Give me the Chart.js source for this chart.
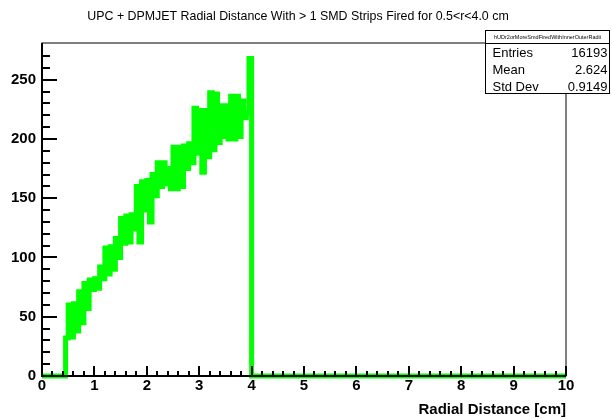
<!DOCTYPE html>
<html>
<head>
<meta charset="utf-8">
<title>UPC + DPMJET radial distance</title>
<script src="https://cdn.jsdelivr.net/npm/chart.js@4.4.1/dist/chart.umd.min.js"></script>
<style>
  html, body { margin: 0; padding: 0; background: #fff; }
  canvas { display: block; }
</style>
</head>
<body>
<canvas id="hist" width="612" height="419"></canvas>
<script>
// binning of the radial distance histogram (cm)
const binLow = 0.45;
const binWidth = 0.05;
const xRange = [0, 10];
const yMax = 281;

// bin contents from binLow up to 4.0 cm, everything else is empty
const counts = [32,
  60, 33, 61, 38, 71, 45, 78, 57, 81, 73,
  82, 74, 92, 82, 108, 86, 109, 90, 116, 100,
  133, 112, 135, 113, 136, 124, 160, 113, 164, 140,
  165, 130, 170, 152, 180, 160, 180, 162, 175, 158,
  193, 158, 193, 160, 194, 175, 196, 180, 226, 188,
  224, 172, 224, 185, 239, 191, 238, 197, 228, 202,
  228, 200, 236, 200, 236, 202, 232, 218, 222, 268];

const histName = 'hUDr2orMoreSmdFiredWithInnerOuterRadii';
const statNames = ['Entries', 'Mean', 'Std Dev'];
const statValues = ['16193', '2.624', '0.9149'];
const titleText = 'UPC + DPMJET Radial Distance With > 1 SMD Strips Fired for 0.5<r<4.0 cm';
const xTitle = 'Radial Distance [cm]';

const FONT = '"Liberation Sans", Arial, Helvetica, sans-serif';

// step points: each point sits on the low edge of its bin
const points = [{ x: xRange[0], y: 0 }];
counts.forEach((c, i) => points.push({ x: binLow + i * binWidth, y: c }));
points.push({ x: binLow + counts.length * binWidth, y: 0 });
points.push({ x: xRange[1], y: 0 });

const isWhole = (v, step) => Math.abs(v / step - Math.round(v / step)) < 1e-6;

// ROOT style frame with ticks pointing inwards
const framePlugin = {
  id: 'frame',
  afterDatasetsDraw(chart) {
    const { ctx, chartArea: a } = chart;
    const xs = chart.scales.x, ys = chart.scales.y;
    ctx.save();
    ctx.strokeStyle = '#000';
    ctx.lineWidth = 1;
    ctx.strokeRect(a.left, a.top, a.right - a.left, a.bottom - a.top);

    ctx.lineWidth = 2;
    ctx.beginPath();
    ctx.moveTo(a.left, a.top);
    ctx.lineTo(a.left, a.bottom);
    ctx.lineTo(a.right, a.bottom);
    ctx.stroke();

    ctx.beginPath();
    xs.ticks.forEach(t => {
      if (!isWhole(t.value, 0.2)) return;
      const px = Math.round(xs.getPixelForValue(t.value));
      const len = isWhole(t.value, 1) ? 10 : 5;
      ctx.moveTo(px, a.bottom);
      ctx.lineTo(px, a.bottom - len);
    });
    ys.ticks.forEach(t => {
      if (!isWhole(t.value, 10)) return;
      const py = Math.round(ys.getPixelForValue(t.value));
      const len = isWhole(t.value, 50) ? 15 : 8;
      ctx.moveTo(a.left, py);
      ctx.lineTo(a.left + len, py);
    });
    ctx.stroke();
    ctx.restore();
  },
  afterDraw(chart) {
    const { ctx } = chart;
    ctx.save();
    // title
    ctx.fillStyle = '#000';
    ctx.font = '12.4px ' + FONT;
    ctx.textAlign = 'center';
    ctx.textBaseline = 'middle';
    ctx.fillText(titleText, 298, 17);

    // statistics box
    const bx = 485, by = 30, bw = 125, bh = 64;
    ctx.fillStyle = '#fff';
    ctx.fillRect(bx, by, bw, bh);
    ctx.strokeStyle = '#000';
    ctx.lineWidth = 1;
    ctx.strokeRect(bx + 0.5, by + 0.5, bw - 1, bh - 1);
    ctx.beginPath();
    ctx.moveTo(bx, by + 13.5);
    ctx.lineTo(bx + bw, by + 13.5);
    ctx.stroke();

    ctx.fillStyle = '#000';
    ctx.font = '5.5px ' + FONT;
    ctx.fillText(histName, bx + bw / 2, by + 7);

    ctx.font = '13px ' + FONT;
    statNames.forEach((name, i) => {
      const y = 53.5 + i * 16.8;
      ctx.textAlign = 'left';
      ctx.fillText(name, bx + 7.5, y);
      ctx.textAlign = 'right';
      ctx.fillText(statValues[i], bx + bw - 2.5, y);
    });
    ctx.restore();
  }
};

new Chart(document.getElementById('hist'), {
  type: 'line',
  data: {
    datasets: [{
      data: points,
      stepped: 'before',
      borderColor: '#00ff00',
      borderWidth: 5,
      borderJoinStyle: 'miter',
      pointRadius: 0,
      fill: false,
      clip: 6
    }]
  },
  options: {
    responsive: false,
    devicePixelRatio: 1,
    animation: false,
    layout: { padding: { left: 0, right: 46, top: 43, bottom: 0 } },
    plugins: {
      legend: { display: false },
      tooltip: { enabled: false },
      title: { display: false }
    },
    scales: {
      x: {
        type: 'linear',
        min: xRange[0],
        max: xRange[1],
        grid: { display: false, drawTicks: false },
        border: { display: false },
        ticks: {
          stepSize: 0.2,
          autoSkip: false,
          maxRotation: 0,
          padding: 1,
          color: '#000',
          font: { family: FONT, size: 15, weight: 'bold' },
          callback: v => isWhole(v, 1) ? String(Math.round(v)) : ''
        },
        title: {
          display: true,
          text: xTitle,
          align: 'end',
          color: '#000',
          font: { family: FONT, size: 15, weight: 'bold' },
          padding: { top: 0, bottom: 0 }
        },
        afterFit: s => { s.height = 43; }
      },
      y: {
        min: 0,
        max: yMax,
        grid: { display: false, drawTicks: false },
        border: { display: false },
        ticks: {
          stepSize: 10,
          autoSkip: false,
          padding: 6,
          color: '#000',
          font: { family: FONT, size: 15, weight: 'bold' },
          callback: v => isWhole(v, 50) ? String(v) : ''
        },
        afterFit: s => { s.width = 42; }
      }
    }
  },
  plugins: [framePlugin]
});
</script>
</body>
</html>
